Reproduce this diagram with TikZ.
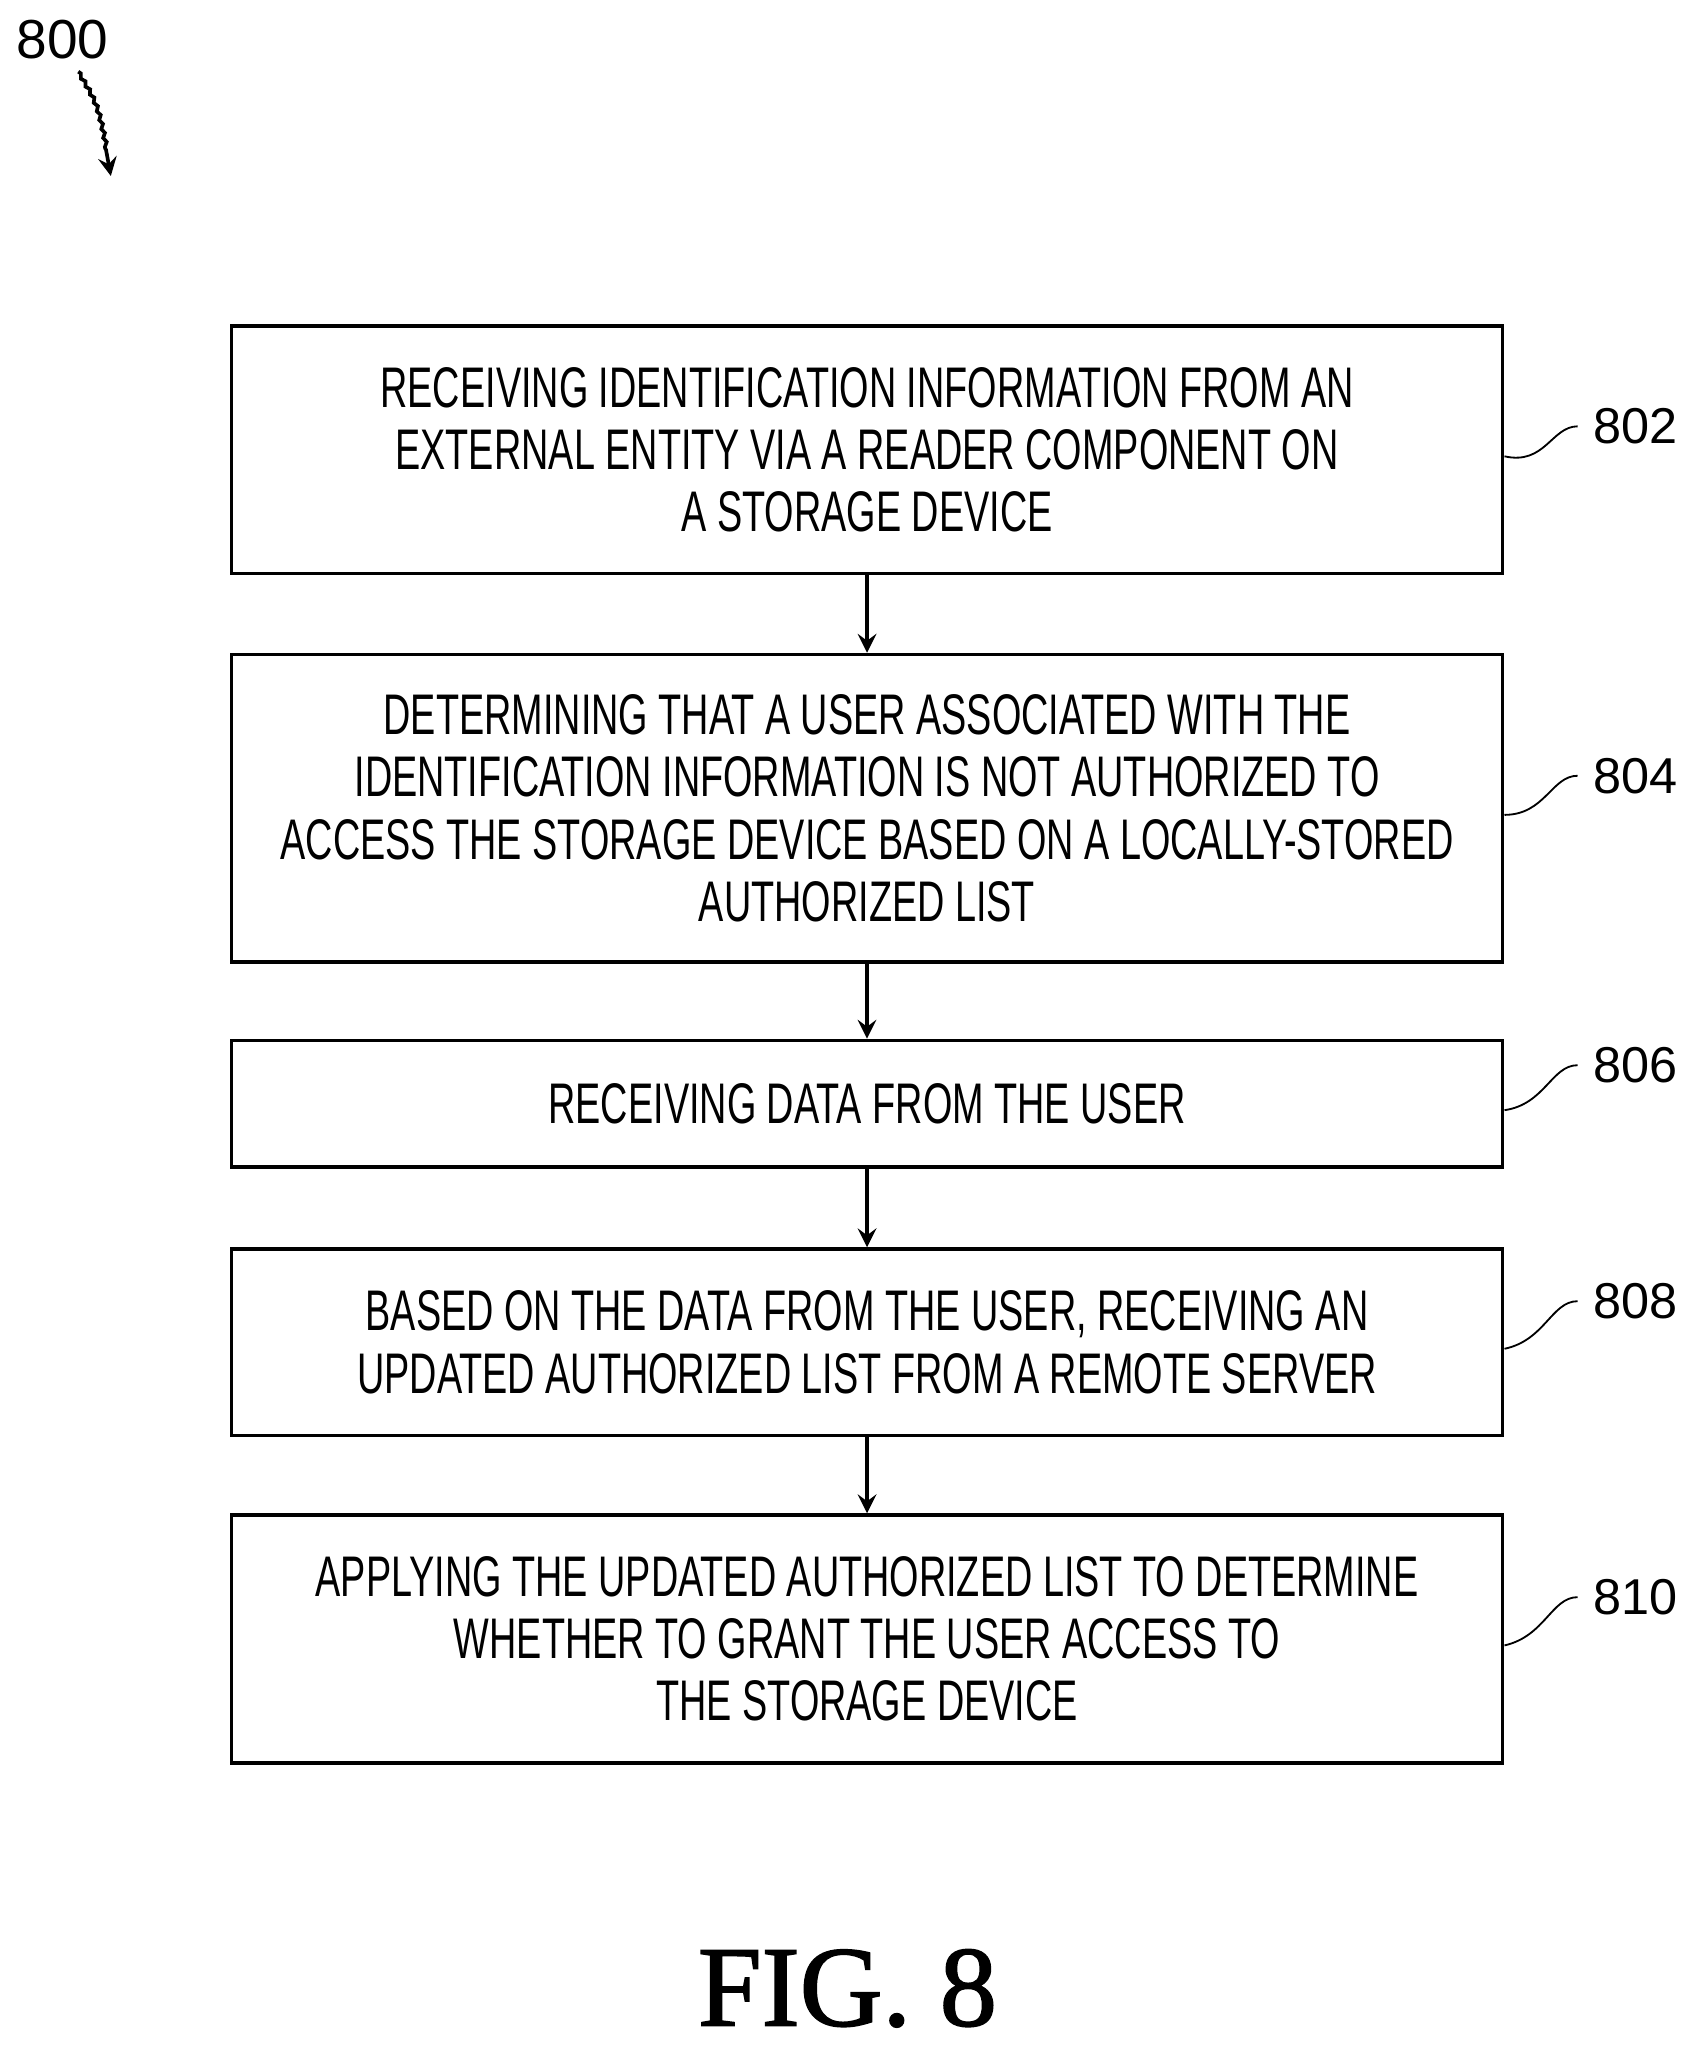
\documentclass[tikz,border=0pt]{standalone}
\usepackage{fontspec}
\setmainfont{Liberation Sans}
\newfontfamily\stepfont{Liberation Sans}[FakeStretch=0.66]
\newfontfamily\figfont{Liberation Serif}[FakeBold=1.5]
\usetikzlibrary{positioning,decorations.pathmorphing}
\tikzset{
  stepbox/.style={draw, thick, rectangle, minimum width=9.75cm, align=center,
    font=\stepfont\fontsize{12.5}{13.6}\selectfont},
  flow/.style={->, thick, >=stealth},
  lead/.style={thin},
  num/.style={font=\fontsize{11}{12}\selectfont, anchor=west}
}
\begin{document}
\begin{tikzpicture}
  \useasboundingbox (0,0) rectangle (13,-15.8);
  % figure number
  \node[font=\fontsize{12}{13}\selectfont] (fignum) at (0.48,-0.3) {800};
  \coordinate (figtip) at (0.85,-1.35);
  \draw[flow, decorate, decoration={snake, amplitude=0.3pt, segment length=2pt, post length=2mm}]
    (0.6,-0.55) .. controls (0.75,-0.8) .. (figtip);

  % steps
  \node[stepbox, minimum height=1.9cm] (s802) at (6.65,-3.45) {RECEIVING IDENTIFICATION INFORMATION FROM AN\\EXTERNAL ENTITY VIA A READER COMPONENT ON\\A STORAGE DEVICE};
  \node[stepbox, minimum height=2.36cm] (s804) at (6.65,-6.2) {DETERMINING THAT A USER ASSOCIATED WITH THE\\IDENTIFICATION INFORMATION IS NOT AUTHORIZED TO\\ACCESS THE STORAGE DEVICE BASED ON A LOCALLY-STORED\\AUTHORIZED LIST};
  \node[stepbox, minimum height=0.97cm] (s806) at (6.65,-8.465) {RECEIVING DATA FROM THE USER};
  \node[stepbox, minimum height=1.43cm] (s808) at (6.65,-10.295) {BASED ON THE DATA FROM THE USER, RECEIVING AN\\UPDATED AUTHORIZED LIST FROM A REMOTE SERVER};
  \node[stepbox, minimum height=1.9cm] (s810) at (6.65,-12.57) {APPLYING THE UPDATED AUTHORIZED LIST TO DETERMINE\\WHETHER TO GRANT THE USER ACCESS TO\\THE STORAGE DEVICE};

  \draw[flow] (s802) -- (s804);
  \draw[flow] (s804) -- (s806);
  \draw[flow] (s806) -- (s808);
  \draw[flow] (s808) -- (s810);

  % reference numerals
  \foreach \s/\y in {802/-3.27, 804/-5.95, 806/-8.17, 808/-9.98, 810/-12.25} {
    \node[num] (n\s) at (12.1,\y) {\s};
    \draw[lead] ([yshift=-0.5mm]s\s.east) .. controls (11.85,\y-0.3) and (11.9,\y) .. (n\s.west);
  }

  \node[font=\figfont\fontsize{25}{27}\selectfont] (fig) at (6.5,-15.25) {FIG. 8};
\end{tikzpicture}
\end{document}
